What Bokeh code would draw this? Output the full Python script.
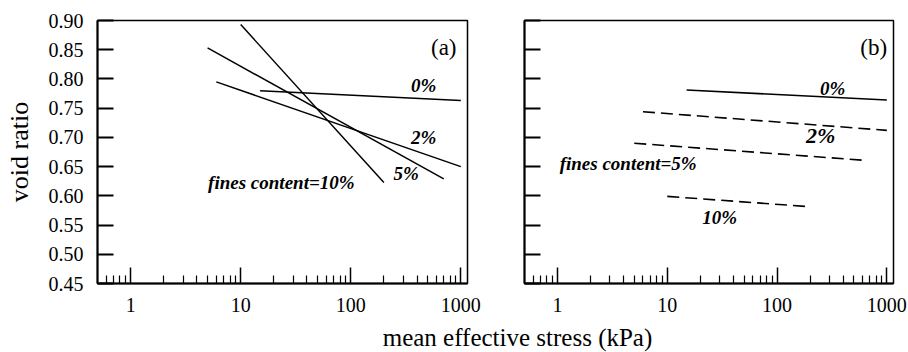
from bokeh.plotting import figure
from bokeh.layouts import column, row
from bokeh.models import FixedTicker, PrintfTickFormatter, ColumnDataSource
from bokeh.core.properties import value
from bokeh.embed import file_html
from bokeh.resources import INLINE

FONT = "Liberation Serif"

# ---- data ----
x_ticks = [1, 10, 100, 1000]
x_minor = [0.6, 0.7, 0.8, 0.9, 2, 3, 4, 5, 6, 7, 8, 9,
           20, 30, 40, 50, 60, 70, 80, 90, 200, 300, 400, 500, 600, 700, 800, 900]
y_ticks = [0.45, 0.50, 0.55, 0.60, 0.65, 0.70, 0.75, 0.80, 0.85, 0.90]

# panel (a): solid lines for fines content 0, 2, 5, 10 %
a_fines = ["0%", "2%", "5%", "10%"]
a_p_start = [15, 6, 5, 10]
a_p_end = [1000, 1000, 700, 200]
a_e_start = [0.780, 0.795, 0.853, 0.893]
a_e_end = [0.763, 0.650, 0.629, 0.623]

# panel (b)
b_fines = ["0%", "2%", "5%", "10%"]
b_p_start = [15, 6, 5, 10]
b_p_end = [1000, 1000, 600, 180]
b_e_start = [0.781, 0.744, 0.690, 0.599]
b_e_end = [0.764, 0.712, 0.661, 0.582]
b_dash = ["solid", "12 6", "12 6", "12 6"]

a_labels = ["0%", "2%", "5%", "fines content=10%"]
a_label_x = [460, 460, 318, 23.4]
a_label_y = [0.789, 0.700, 0.638, 0.623]

b_labels = ["0%", "2%", "fines content=5%", "10%"]
b_label_x = [321, 250, 4.4, 30]
b_label_y = [0.784, 0.703, 0.655, 0.563]
b_label_size = ["19px", "22px", "19px", "19px"]

X_RANGE = (0.5, 1150)
Y_RANGE = (0.45, 0.90)


def make_panel(width, left, right, show_ylabels):
    p = figure(width=width, height=320, x_axis_type="log",
               x_range=X_RANGE, y_range=Y_RANGE, title=None,
               output_backend="svg", toolbar_location=None,
               min_border_left=left, min_border_right=right,
               min_border_top=20, min_border_bottom=37)
    p.grid.visible = False
    p.outline_line_color = "black"
    p.outline_line_width = 1.5
    p.background_fill_color = "white"
    p.border_fill_color = "white"

    xa = p.xaxis[0]
    xa.ticker = FixedTicker(ticks=x_ticks, minor_ticks=x_minor)
    xa.formatter = PrintfTickFormatter(format="%d")
    xa.major_tick_in = 16
    xa.major_tick_out = 0
    xa.minor_tick_in = 8
    xa.minor_tick_out = 0
    xa.axis_line_width = 2
    xa.major_tick_line_width = 1.5
    xa.minor_tick_line_width = 1.2
    xa.major_label_text_font = FONT
    xa.major_label_text_font_size = "20px"
    xa.major_label_standoff = 14
    xa.major_label_text_color = "black"

    ya = p.yaxis[0]
    ya.ticker = FixedTicker(ticks=y_ticks, minor_ticks=[])
    ya.formatter = PrintfTickFormatter(format="%.2f")
    ya.major_tick_in = 16
    ya.major_tick_out = 0
    ya.minor_tick_in = 0
    ya.minor_tick_out = 0
    ya.axis_line_width = 2
    ya.major_tick_line_width = 2
    ya.major_label_text_font = FONT
    ya.major_label_text_font_size = "20px"
    ya.major_label_text_color = "black"
    ya.major_label_standoff = 14
    if show_ylabels:
        ya.axis_label = "void ratio"
        ya.axis_label_text_font = FONT
        ya.axis_label_text_font_size = "26px"
        ya.axis_label_text_font_style = "normal"
        ya.axis_label_standoff = 12
        ya.axis_label_text_color = "black"
    else:
        ya.major_label_overrides = {t: "" for t in y_ticks}
    return p


pa = make_panel(495, 97, 28, True)
pb = make_panel(413, 29, 15, False)

src_a = ColumnDataSource(dict(x0=a_p_start, x1=a_p_end, y0=a_e_start, y1=a_e_end))
pa.segment("x0", "y0", "x1", "y1", source=src_a, line_color="black", line_width=1.5)

for i in range(len(b_fines)):
    pb.line([b_p_start[i], b_p_end[i]], [b_e_start[i], b_e_end[i]],
            line_color="black", line_width=1.6, line_dash=b_dash[i])

pa.text(x=a_label_x, y=a_label_y, text=a_labels,
        text_font=value(FONT), text_font_style="bold italic",
        text_font_size="19px", text_align="center", text_baseline="middle",
        text_color="black")
pa.text(x=[700], y=[0.854], text=["(a)"], text_font=value(FONT),
        text_font_size="23px", text_align="center", text_baseline="middle",
        text_color="black")

for i in range(len(b_labels)):
    pb.text(x=[b_label_x[i]], y=[b_label_y[i]], text=[b_labels[i]],
            text_font=value(FONT), text_font_style="bold italic",
            text_font_size=b_label_size[i], text_align="center",
            text_baseline="middle", text_color="black")
pb.text(x=[760], y=[0.854], text=["(b)"], text_font=value(FONT),
        text_font_size="23px", text_align="center", text_baseline="middle",
        text_color="black")

# shared x-axis title
pt = figure(width=908, height=32, x_range=(0, 908), y_range=(0, 32),
            title=None, output_backend="svg", toolbar_location=None,
            min_border=0)
pt.axis.visible = False
pt.grid.visible = False
pt.outline_line_color = None
pt.text(x=[517], y=[15], text=["mean effective stress (kPa)"],
        text_font=value(FONT), text_font_size="25px",
        text_align="center", text_baseline="middle", text_color="black")

layout = column(row(pa, pb), pt, spacing=0)
layout.styles = {"margin": "0"}

open("out.html", "w").write(file_html(layout, INLINE))
